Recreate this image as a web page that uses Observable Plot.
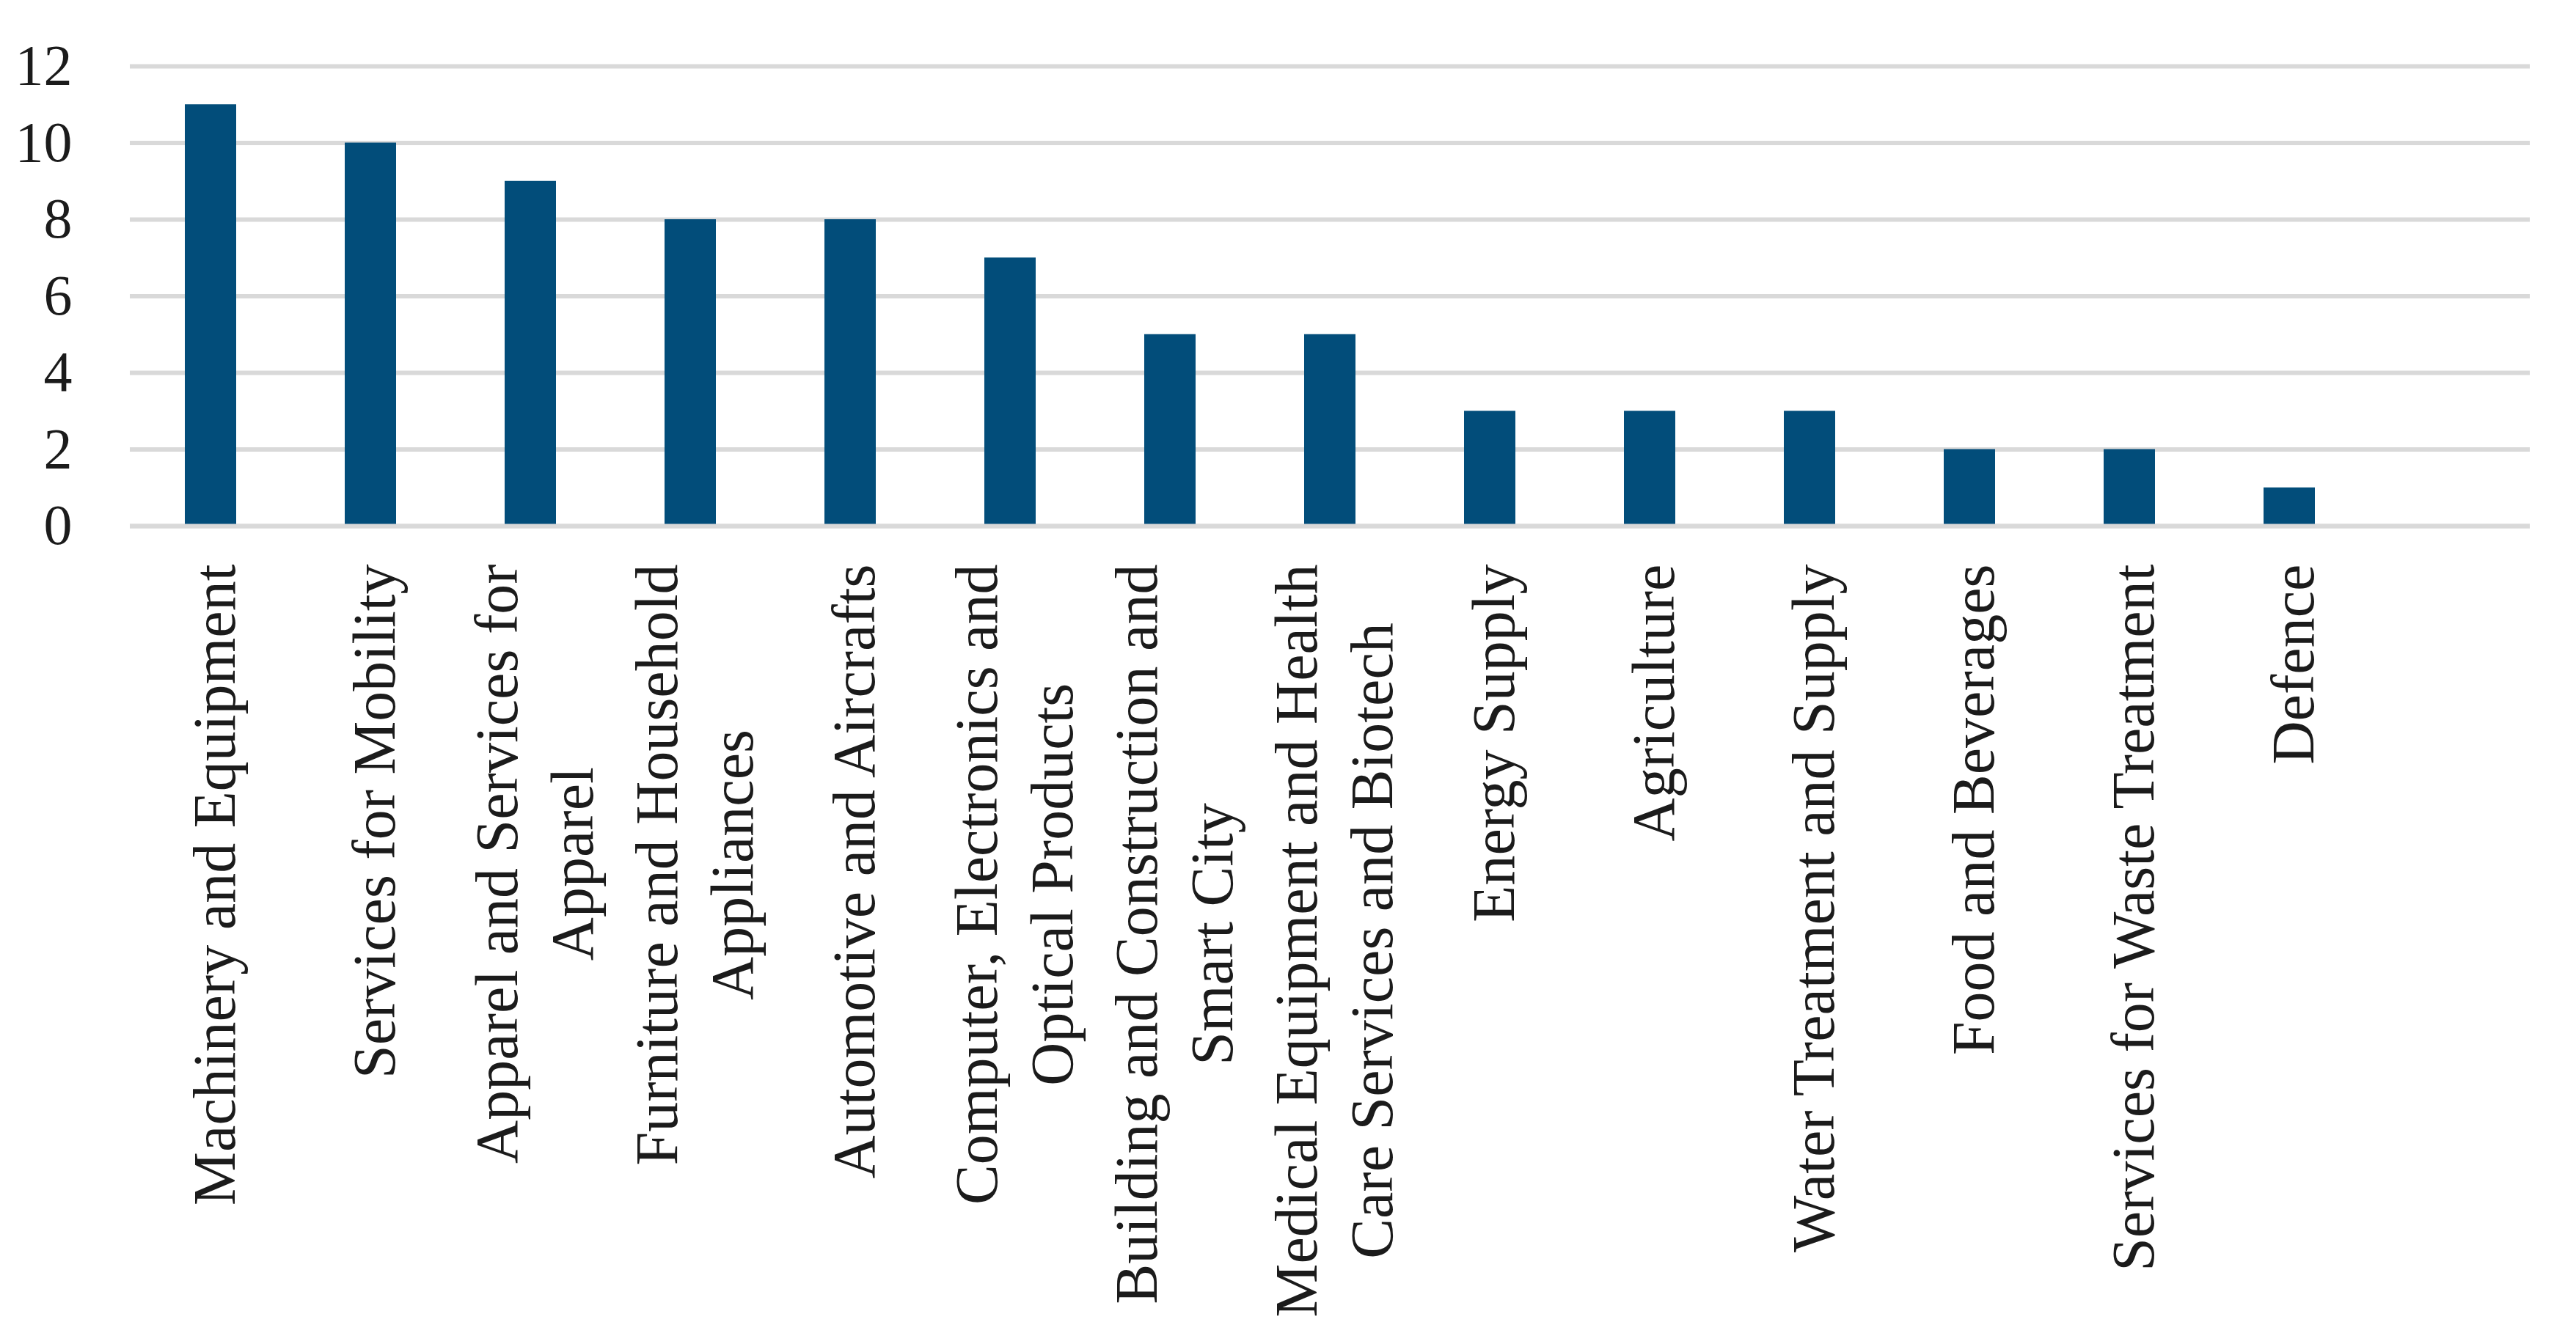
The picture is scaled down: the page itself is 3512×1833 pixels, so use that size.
<!DOCTYPE html>
<html>
<head>
<meta charset="utf-8">
<script src="https://cdn.jsdelivr.net/npm/d3@7"></script>
<script src="https://cdn.jsdelivr.net/npm/@observablehq/plot@0.6"></script>
<style>
  html, body { margin: 0; padding: 0; background: #ffffff; }
  #chart svg { display: block; }
</style>
</head>
<body>
<div id="chart"></div>
<script>
// Categories (in order), their counts, and wrapped tick labels
const categories = [
  "Machinery and Equipment",
  "Services for Mobility",
  "Apparel and Services for Apparel",
  "Furniture and Household Appliances",
  "Automotive and Aircrafts",
  "Computer, Electronics and Optical Products",
  "Building and Construction and Smart City",
  "Medical Equipment and Health Care Services and Biotech",
  "Energy Supply",
  "Agriculture",
  "Water Treatment and Supply",
  "Food and Beverages",
  "Services for Waste Treatment",
  "Defence"
];
const values = [11, 10, 9, 8, 8, 7, 5, 5, 3, 3, 3, 2, 2, 1];
const tickLabels = [
  "Machinery and Equipment",
  "Services for Mobility",
  "Apparel and Services for\nApparel",
  "Furniture and Household\nAppliances",
  "Automotive and Aircrafts",
  "Computer, Electronics and\nOptical Products",
  "Building and Construction and\nSmart City",
  "Medical Equipment and Health\nCare Services and Biotech",
  "Energy Supply",
  "Agriculture",
  "Water Treatment and Supply",
  "Food and Beverages",
  "Services for Waste Treatment",
  "Defence"
];
const yTicks = [0, 2, 4, 6, 8, 10, 12];
// the original chart keeps one empty category slot at the right end
const emptySlot = "";

const data = categories.map((c, i) => ({category: c, value: values[i]}));
const labelOf = new Map(categories.map((c, i) => [c, tickLabels[i]]));
const xDomain = [...categories, emptySlot];

const FONT = "'Liberation Serif', 'DejaVu Serif', serif";
const TEXT = "#1b1b1b";
const GRID = "#d9d9d9";
const BAR = "#024d7a";

const chart = Plot.plot({
  width: 3512,
  height: 1833,
  marginLeft: 177,
  marginRight: 63,
  marginTop: 90,
  marginBottom: 1116,
  style: {fontFamily: FONT, background: "#ffffff", overflow: "visible"},
  x: {domain: xDomain, paddingInner: 0.68, paddingOuter: 0.34, label: null},
  y: {domain: [0, 12], ticks: yTicks, label: null},
  marks: [
    Plot.gridY(yTicks, {stroke: GRID, strokeOpacity: 1, strokeWidth: 6}),
    Plot.barY(data, {x: "category", y: "value", fill: BAR}),
    Plot.ruleY([0], {stroke: GRID, strokeWidth: 6}),
    Plot.axisY({
      ticks: yTicks, tickSize: 0, tickPadding: 79,
      fontSize: 78, fill: TEXT, fontFamily: FONT, label: null
    }),
    Plot.axisX({
      tickSize: 0, tickPadding: 52, tickRotate: -90,
      tickFormat: d => labelOf.get(d) ?? "",
      fontSize: 82, lineHeight: 1.25, fill: TEXT, fontFamily: FONT, label: null
    })
  ]
});

document.getElementById("chart").appendChild(chart);

// Center wrapped lines on each other (block end still anchored at the axis)
chart.querySelectorAll('g[aria-label="x-axis tick label"] text').forEach(t => {
  const spans = t.querySelectorAll("tspan");
  if (spans.length < 2) return;
  let L = 0;
  spans.forEach(s => { L = Math.max(L, s.getComputedTextLength()); });
  t.setAttribute("text-anchor", "middle");
  spans.forEach(s => s.setAttribute("x", -L / 2));
});
</script>
</body>
</html>
